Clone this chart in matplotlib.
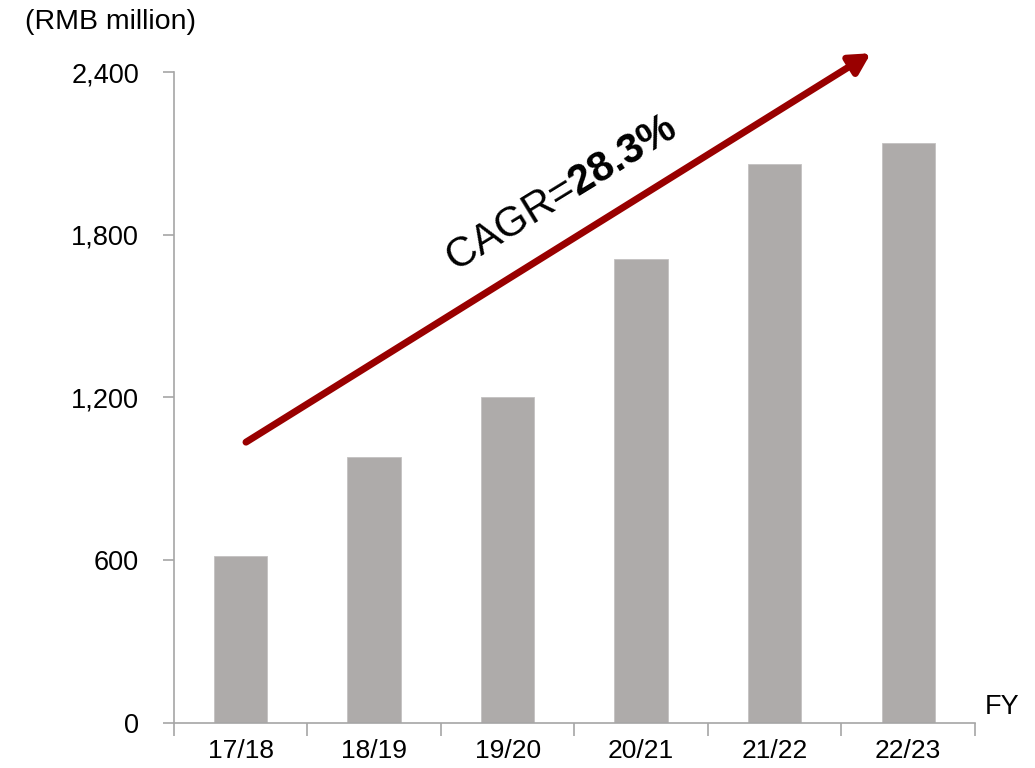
import matplotlib
matplotlib.use("Agg")
from matplotlib import pyplot as plt
from matplotlib.ticker import FuncFormatter, FixedLocator

plt.rcParams["font.family"] = ["Liberation Sans", "DejaVu Sans"]
plt.rcParams["mathtext.fontset"] = "custom"
plt.rcParams["mathtext.rm"] = "Liberation Sans"
plt.rcParams["mathtext.bf"] = "Liberation Sans:bold"

years = ["17/18", "18/19", "19/20", "20/21", "21/22", "22/23"]
revenue = [615, 981, 1202, 1710, 2063, 2139]
cagr_text = r"CAGR=$\mathbf{28.3\%}$"

bar_color = "#aeabaa"
axis_color = "#a6a6a6"
arrow_color = "#990000"

fig = plt.figure(figsize=(10.35, 7.68), dpi=100)
ax = fig.add_axes([0.168, 0.059, 0.774, 0.847])

x = range(len(years))
ax.bar(x, revenue, width=0.4, color=bar_color, edgecolor="#c4c2c1", linewidth=0.6, zorder=2)

ax.set_xlim(-0.5, len(years) - 0.5)
ax.set_ylim(0, 2400)
ax.set_yticks([0, 600, 1200, 1800, 2400])
ax.yaxis.set_major_formatter(FuncFormatter(lambda v, p: f"{int(v):,}"))

# ticks sit on the category boundaries, labels under the bars
ax.set_xticks([i - 0.5 for i in range(len(years) + 1)])
ax.set_xticklabels([])
ax.xaxis.set_minor_locator(FixedLocator(list(x)))
ax.set_xticklabels(years, minor=True)
ax.tick_params(axis="x", which="minor", length=0, labelsize=19, pad=12)
ax.tick_params(axis="x", which="major", length=9, width=1.2, color=axis_color, direction="out")
ax.tick_params(axis="y", length=8, width=1.2, color=axis_color, labelsize=19.5, pad=17)

for side in ("top", "right"):
    ax.spines[side].set_visible(False)
for side in ("left", "bottom"):
    ax.spines[side].set_color(axis_color)
    ax.spines[side].set_linewidth(1.2)

fig.text(0.024, 0.971, "(RMB million)", fontsize=20.5, ha="left", va="center")
fig.text(0.951, 0.080, "FY", fontsize=19.5, ha="left", va="center")

# growth arrow
ax.annotate("", xy=(4.72, 2470), xytext=(0.04, 1035), annotation_clip=False,
            arrowprops=dict(arrowstyle="-|>,head_length=1.2,head_width=0.65",
                            color=arrow_color, lw=5, shrinkA=0, shrinkB=0), zorder=3)
ax.text(2.4, 1950, cagr_text, fontsize=30, rotation=31.5, rotation_mode="anchor",
        ha="center", va="center", zorder=4)

fig.savefig("out.png", dpi=100)
